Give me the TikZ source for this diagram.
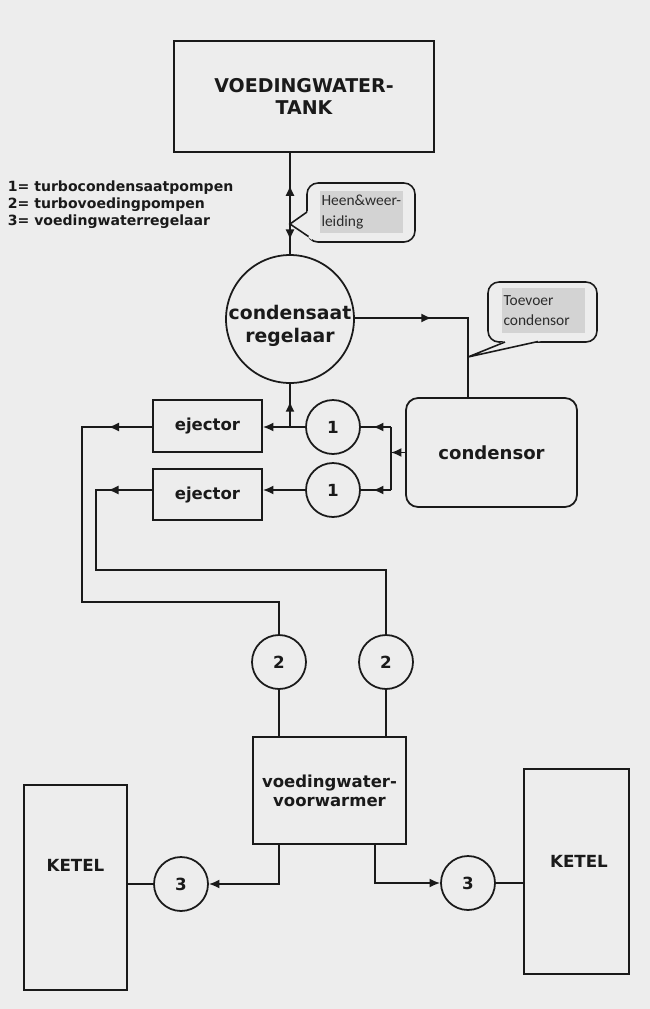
\documentclass[tikz,border=0pt]{standalone}
\usepackage{fontspec}
\setmainfont{DejaVu Sans}
\newfontfamily\notefont{Carlito}
\usetikzlibrary{arrows.meta,calc,decorations.markings}
\definecolor{paper}{HTML}{EDEDED}
\definecolor{shade}{HTML}{D3D3D3}
\definecolor{ink}{HTML}{1A1A1A}
\definecolor{notegray}{HTML}{2C2C2C}

\begin{document}
\begin{tikzpicture}[
    x=0.02cm, y=-0.02cm,
    color=ink, line width=1pt,
    >={Latex[length=2.1mm,width=1.8mm]},
    box/.style={draw=ink, fill=paper, line width=1pt, inner sep=1pt, align=center,
                font=\fontsize{9.4}{10.8}\selectfont\bfseries},
    pump/.style={circle, draw=ink, fill=paper, line width=1pt, minimum size=1.08cm,
                 inner sep=0pt, font=\fontsize{9.5}{11}\selectfont\bfseries},
    bubble/.style={draw=ink, fill=paper, line width=0.9pt, rounded corners=0.22cm},
    shadebox/.style={fill=shade, inner sep=1pt, align=left, text=notegray,
                     font=\notefont\fontsize{8.8}{11.5}\selectfont},
    flow/.style={postaction={decorate, decoration={markings,
                 mark=at position #1 with {\arrow{>}}}}},
    backflow/.style={postaction={decorate, decoration={markings,
                 mark=at position #1 with {\arrowreversed{>}}}}},
]
\useasboundingbox (0,0) rectangle (650,1009);
\fill[paper] (0,0) rectangle (650,1009);

% =====================================================================
% top: tank, legend, condensaat regelaar
% =====================================================================
\node[box, minimum width=5.2cm, minimum height=2.22cm,
      font=\fontsize{10.8}{12.5}\selectfont\bfseries] (tank) at (304,96.5)
    {VOEDINGWATER-\\TANK};

\node[anchor=west, align=left, inner sep=0pt,
      font=\fontsize{8}{9.6}\selectfont\bfseries] (legend) at (7,205)
    {1= turbocondensaatpompen\\2= turbovoedingpompen\\3= voedingwaterregelaar};

\node[circle, draw=ink, fill=paper, line width=1pt, minimum size=2.56cm, inner sep=0pt]
    (reg) at (290,319) {};
\node[align=center, font=\fontsize{10.7}{13}\selectfont\bfseries] (regT) at (290,326)
    {condensaat\\regelaar};

% heen & weer leiding
\draw[flow=0.86, backflow=0.32] (reg.north |- tank.south) -- (reg.north);
\coordinate (heenTip) at (290,224);
\node[bubble, minimum width=2.16cm, minimum height=1.18cm] (heen) at (361,212.5) {};
\fill[paper] (311,209) -- (heenTip) -- (312,240) -- cycle;
\draw[line width=0.9pt] (307,212) -- (heenTip) -- (308.5,236.5);
\node[shadebox, minimum width=1.66cm, minimum height=0.84cm, text width=1.6cm]
    (heenT) at (361.5,212) {Heen\&weer-\\leiding};

% =====================================================================
% condensor side
% =====================================================================
\node[box, rounded corners=0.24cm, minimum width=3.42cm, minimum height=2.18cm,
      font=\fontsize{10.3}{12}\selectfont\bfseries] (cond) at (491.5,452.5) {condensor};

\coordinate (tj) at (468,318);
\draw[flow=0.40] (reg.east |- tj) -- (tj) -- (tj |- cond.north);

% toevoer condensor
\coordinate (toeTip) at (468,357);
\node[bubble, minimum width=2.18cm, minimum height=1.2cm] (toe) at (542.5,312) {};
\fill[paper] (509,339) -- (toeTip) -- (550,339) -- cycle;
\draw[line width=0.9pt] (505,342) -- (toeTip) -- (538,341.5);
\node[shadebox, minimum width=1.66cm, minimum height=0.9cm, text width=1.6cm]
    (toeT) at (543.5,310.5) {Toevoer\\condensor};

% turbocondensaatpompen and ejectors
\node[pump] (p1a) at (333,427) {1};
\node[pump] (p1b) at (333,490) {1};
\node[box, minimum width=2.18cm, minimum height=1.04cm] (ejA) at (207.5,426) {ejector};
\node[box, minimum width=2.18cm, minimum height=1.02cm] (ejB) at (207.5,494.5) {ejector};

\coordinate (jn) at (391,452.5);
\draw[->] (cond.west) -- (jn);
\draw (jn |- p1a) -- (jn |- p1b);
\draw[flow=0.6] (jn |- p1a) -- (p1a);
\draw[flow=0.6] (jn |- p1b) -- (p1b);

\draw[->] (p1a) -- (p1a -| ejA.east);
\draw[->] (p1b) -- (p1b -| ejB.east);
\coordinate (jr) at (reg.south |- p1a);
\draw[flow=0.60] (jr) -- (reg.south);

% =====================================================================
% turbovoedingpompen and voorwarmer
% =====================================================================
\node[pump] (p2a) at (279,662) {2};
\node[pump] (p2b) at (386,662) {2};
\node[box, minimum width=3.06cm, minimum height=2.14cm] (vw) at (329.5,790.5)
    {voedingwater-\\voorwarmer};

\draw[flow=0.092] (ejA.west |- p1a) -| (82,602) -| (p2a.north);
\draw[flow=0.090] (ejB.west |- p1b) -| (96,570) -| (p2b.north);
\draw (p2a) -- (p2a |- vw.north);
\draw (p2b) -- (p2b |- vw.north);

% =====================================================================
% bottom: voedingwaterregelaars and ketels
% =====================================================================
\node[box, minimum width=2.06cm, minimum height=4.1cm] (ketL) at (75.5,887.5) {};
\node[font=\fontsize{9.5}{11}\selectfont\bfseries] (ketLT) at (75.5,865) {KETEL};
\node[box, minimum width=2.1cm, minimum height=4.1cm] (ketR) at (576.5,871.5) {};
\node[font=\fontsize{9.5}{11}\selectfont\bfseries] (ketRT) at (579,861) {KETEL};

\node[pump] (p3a) at (181,884) {3};
\node[pump] (p3b) at (468,883) {3};

\draw[->] (vw.south -| p2a) |- (p3a);
\draw[->] ($(vw.south east)+(-32,0)$) |- (p3b);
\draw (p3a.west) -- (p3a.west -| ketL.east);
\draw (p3b.east) -- (p3b.east -| ketR.west);

\end{tikzpicture}
\end{document}
